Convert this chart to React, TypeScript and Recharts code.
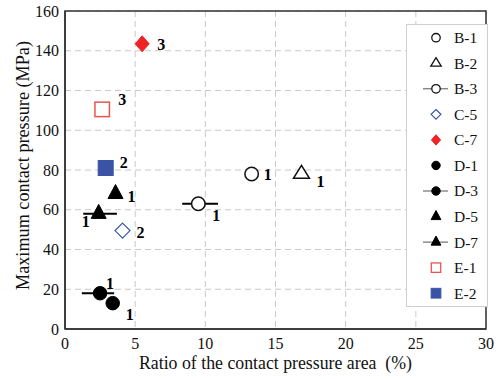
import {
  CartesianGrid,
  ErrorBar,
  Legend,
  ReferenceArea,
  Scatter,
  ScatterChart,
  XAxis,
  YAxis,
} from "recharts";

const SERIES = ["B-1", "B-2", "B-3", "C-5", "C-7", "D-1", "D-3", "D-5", "D-7", "E-1", "E-2"];
const RATIO = [13.3, 16.85, 9.5, 4.1, 5.5, 3.4, 2.5, 3.6, 2.4, 2.65, 2.9];
const PRESSURE = [78, 78, 63, 49.5, 143.5, 13, 18, 68, 58, 110.5, 81];
const COUNT = ["1", "1", "1", "2", "3", "1", "1", "1", "1", "3", "2"];
const RATIO_RANGE: (number[] | null)[] = [
  null, null, [1.15, 1.4], null, null, null, [1.3, 1.0], null, [1.1, 1.3], null, null,
];
const X_TICKS = [0, 5, 10, 15, 20, 25, 30];
const Y_TICKS = [0, 20, 40, 60, 80, 100, 120, 140, 160];
const X_TITLE = "Ratio of the contact pressure area\u00a0\u00a0(%)";
const Y_TITLE = "Maximum contact pressure (MPa)";

const FONT = "Liberation Serif";

type Kind = "circle" | "triangle" | "diamond" | "square";
type Look = {
  kind: Kind;
  fill: string;
  stroke: string;
  sw: number;
  w: number;
  h: number;
  dx: number;
  dy: number;
  bar?: boolean;
};

const LOOK: Record<string, Look> = {
  "B-1": { kind: "circle", fill: "#fff", stroke: "#111", sw: 1.5, w: 15, h: 15, dx: 16, dy: 0 },
  "B-2": { kind: "triangle", fill: "#fff", stroke: "#111", sw: 1.5, w: 16, h: 13, dx: 19, dy: 7 },
  "B-3": { kind: "circle", fill: "#fff", stroke: "#111", sw: 1.5, w: 15, h: 15, dx: 18, dy: 12, bar: true },
  "C-5": { kind: "diamond", fill: "#fff", stroke: "#3b57a8", sw: 1.2, w: 15, h: 15, dx: 18, dy: 2 },
  "C-7": { kind: "diamond", fill: "#ee2424", stroke: "#ee2424", sw: 1, w: 14, h: 16, dx: 19, dy: 1 },
  "D-1": { kind: "circle", fill: "#000", stroke: "#000", sw: 1, w: 14.5, h: 14.5, dx: 17, dy: 11 },
  "D-3": { kind: "circle", fill: "#000", stroke: "#000", sw: 1, w: 14.5, h: 14.5, dx: 10, dy: -10, bar: true },
  "D-5": { kind: "triangle", fill: "#000", stroke: "#000", sw: 1, w: 15, h: 14, dx: 16, dy: 3 },
  "D-7": { kind: "triangle", fill: "#000", stroke: "#000", sw: 1, w: 15, h: 14, dx: -13, dy: 8, bar: true },
  "E-1": { kind: "square", fill: "#fff", stroke: "#e8554f", sw: 1.5, w: 14.5, h: 14.5, dx: 20, dy: -10 },
  "E-2": { kind: "square", fill: "#3a53a4", stroke: "#3a53a4", sw: 1, w: 15, h: 15, dx: 18, dy: -6 },
};

function marker(look: Look, cx: number, cy: number, scale = 1) {
  const w = look.w * scale;
  const h = look.h * scale;
  const common = { fill: look.fill, stroke: look.stroke, strokeWidth: look.sw };
  switch (look.kind) {
    case "circle":
      return <circle cx={cx} cy={cy} r={w / 2 - look.sw / 2} {...common} />;
    case "square":
      return <rect x={cx - w / 2} y={cy - h / 2} width={w} height={h} {...common} />;
    case "diamond":
      return (
        <polygon
          points={`${cx},${cy - h / 2} ${cx + w / 2},${cy} ${cx},${cy + h / 2} ${cx - w / 2},${cy}`}
          {...common}
        />
      );
    default:
      return (
        <polygon
          points={`${cx},${cy - (2 * h) / 3} ${cx + w / 2},${cy + h / 3} ${cx - w / 2},${cy + h / 3}`}
          {...common}
        />
      );
  }
}

const points = SERIES.map((name, i) => ({
  name,
  x: RATIO[i],
  y: PRESSURE[i],
  label: COUNT[i],
  range: RATIO_RANGE[i],
}));
const withRange = points.filter((p) => p.range);

function PointShape(props: any) {
  const { cx, cy, payload } = props;
  if (cx == null || cy == null) return <g />;
  const look = LOOK[payload.name];
  return (
    <g>
      {marker(look, cx, cy)}
      <text
        x={cx + look.dx}
        y={cy + look.dy}
        dy="0.35em"
        textAnchor="middle"
        fontFamily={FONT}
        fontWeight="bold"
        fontSize={16}
        fill="#000"
      >
        {payload.label}
      </text>
    </g>
  );
}

function XTick(props: any) {
  const { x, y, payload } = props;
  return (
    <text x={x} y={y} dy={17} textAnchor="middle" fontFamily={FONT} fontSize={16} fill="#111">
      {payload.value}
    </text>
  );
}

function YTick(props: any) {
  const { x, y, payload } = props;
  return (
    <text x={x} y={y} dy={5.5} textAnchor="end" fontFamily={FONT} fontSize={16} fill="#111">
      {payload.value}
    </text>
  );
}

function XTitle(props: any) {
  const vb = props.viewBox;
  return (
    <text x={vb.x + vb.width / 2} y={369} textAnchor="middle" fontFamily={FONT} fontSize={17.8} fill="#111">
      {X_TITLE}
    </text>
  );
}

function YTitle(props: any) {
  const vb = props.viewBox;
  const cy = vb.y + vb.height / 2 - 4.5;
  return (
    <text
      x={29}
      y={cy}
      transform={`rotate(-90, 29, ${cy})`}
      textAnchor="middle"
      fontFamily={FONT}
      fontSize={18.2}
      fill="#111"
    >
      {Y_TITLE}
    </text>
  );
}

function LegendBox() {
  const rowH = 25.55;
  return (
    <div
      style={{
        width: 82,
        height: 283,
        boxSizing: "border-box",
        border: "1px solid #cfcfcf",
        background: "#fff",
      }}
    >
      <svg width={80} height={281}>
        {SERIES.map((name, i) => {
          const look = LOOK[name];
          const cy = 12.7 + i * rowH;
          return (
            <g key={name}>
              {look.bar && <line x1={16} x2={41} y1={cy} y2={cy} stroke="#555" strokeWidth={1} />}
              {marker({ ...look, sw: look.sw === 1.5 ? 1.3 : look.sw }, 29, cy, 0.65)}
              <text x={47} y={cy} dy="0.35em" fontFamily={FONT} fontSize={15.5} fill="#111">
                {name}
              </text>
            </g>
          );
        })}
      </svg>
    </div>
  );
}

export default function App() {
  return (
    <div
      style={{
        position: "absolute",
        left: 0,
        top: 0,
        width: 504,
        height: 379,
        background: "#fff",
        fontFamily: FONT,
      }}
    >
      <ScatterChart width={504} height={379} margin={{ top: 11, right: 18, bottom: 0, left: 0 }}>
        <CartesianGrid stroke="#c9c9c9" strokeDasharray="6 4" />
        <XAxis
          type="number"
          dataKey="x"
          domain={[0, 30]}
          ticks={X_TICKS}
          height={50}
          tickLine={false}
          tickSize={0}
          tickMargin={3}
          axisLine={{ stroke: "#333", strokeWidth: 1.5 }}
          tick={<XTick />}
          label={{ content: XTitle }}
        />
        <YAxis
          type="number"
          dataKey="y"
          domain={[0, 160]}
          ticks={Y_TICKS}
          width={65}
          tickLine={false}
          tickSize={0}
          tickMargin={6}
          axisLine={{ stroke: "#333", strokeWidth: 1.5 }}
          tick={<YTick />}
          label={{ content: YTitle }}
        />
        <ReferenceArea x1={0} x2={30} y1={0} y2={160} fill="none" stroke="#333" strokeWidth={1.5} />
        <Scatter data={withRange} shape={() => <g />} legendType="none" isAnimationActive={false}>
          <ErrorBar dataKey="range" direction="x" width={0} stroke="#000" strokeWidth={2} isAnimationActive={false} />
        </Scatter>
        {points.map((p) => (
          <Scatter key={p.name} name={p.name} data={[p]} shape={PointShape} isAnimationActive={false} />
        ))}
        <Legend
          layout="vertical"
          align="center"
          verticalAlign="middle"
          content={() => <LegendBox />}
          wrapperStyle={{ left: 406, top: 24, width: 82, height: 283 }}
        />
      </ScatterChart>
    </div>
  );
}
